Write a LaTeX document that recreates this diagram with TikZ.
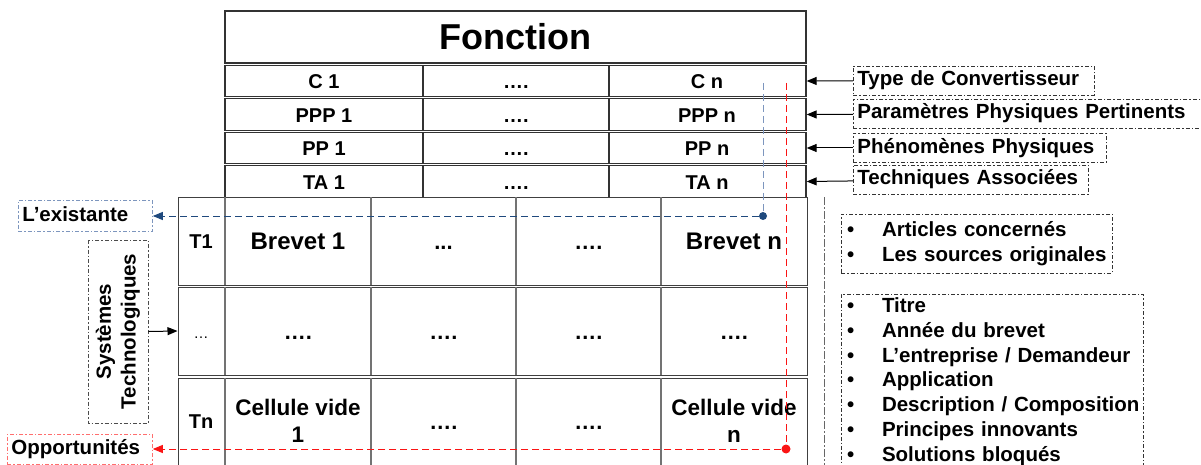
\documentclass[tikz,border=0pt]{standalone}
\usepackage{fontspec}
\setmainfont{Liberation Sans}
\usetikzlibrary{arrows.meta,positioning}
\definecolor{existblue}{RGB}{31,73,125}
\definecolor{paleblue}{RGB}{125,150,190}
\definecolor{oppred}{RGB}{250,20,20}
\definecolor{palered}{RGB}{255,110,110}
\newcommand{\puce}[1]{\mbox{\makebox[35pt][l]{\textbullet}#1}}

\begin{document}
\begin{tikzpicture}[x=1pt, y=-1pt,
  >={Triangle[length=10pt,width=8pt]},
  rowbox/.style={draw=black!80, line width=1.3pt, minimum width=581pt,
    minimum height=31.5pt, inner sep=0pt},
  techrow/.style={draw=black!75, line width=1pt, minimum width=629pt,
    minimum height=88pt, inner sep=0pt},
  divide/.style={black!55, line width=1.1pt},
  cell/.style={font=\fontsize{20}{24}\selectfont\bfseries, text height=14pt,
    text depth=0pt, inner sep=0pt},
  bigcell/.style={font=\fontsize{24}{27}\selectfont\bfseries, text height=17pt,
    text depth=0pt, inner sep=0pt},
  dotcell/.style={bigcell, font=\fontsize{22}{26}\selectfont\bfseries},
  videcell/.style={font=\fontsize{22.5}{27}\selectfont\bfseries, align=center,
    inner sep=0pt},
  tag/.style={draw=black!80, line width=0.8pt,
    dash pattern=on 4pt off 2pt on 1.5pt off 2pt,
    font=\fontsize{20.5}{24.8}\selectfont\bfseries, align=left,
    inner xsep=4pt, inner ysep=0pt, minimum height=29pt,
    text height=15pt, text depth=4pt, anchor=west},
  listbox/.style={draw=black!80, line width=0.8pt,
    dash pattern=on 4pt off 2pt on 1.5pt off 2pt,
    font=\fontsize{20.5}{24.8}\selectfont\bfseries, align=left,
    inner xsep=6pt, inner ysep=0pt},
  arr/.style={->, line width=1pt},
  trace/.style={line width=1pt, dash pattern=on 7pt off 4pt},
  pt/.style={circle, inner sep=0pt, minimum size=8pt}
]
\useasboundingbox (0,0) rectangle (1201,465);

% Fonction and its four rows
\node[rowbox, minimum height=52pt, font=\fontsize{36}{40}\selectfont\bfseries]
  (fn) at (515.5,37) {Fonction};
\node[rowbox] (rowC)   at (515.5,81)    {};
\node[rowbox] (rowPPP) at (515.5,114.5) {};
\node[rowbox] (rowPP)  at (515.5,148)   {};
\node[rowbox] (rowTA)  at (515.5,181.5) {};
\foreach \t/\b in {65/97,99/130,132/164,166/197}
  \foreach \x in {423,609}
    \draw[black!80, line width=1.3pt] (\x,\t) -- (\x,\b);

\node[cell] (C1)   at (324,82)    {C 1};
\node[cell] (Cd)   at (516,82)    {….};
\node[cell] (Cn)   at (707,82)    {C n};
\node[cell] (PPP1) at (324,115.5) {PPP 1};
\node[cell] (PPPd) at (516,115.5) {….};
\node[cell] (PPPn) at (707,115.5) {PPP n};
\node[cell] (PP1)  at (324,149)   {PP 1};
\node[cell] (PPd)  at (516,149)   {….};
\node[cell] (PPn)  at (707,149)   {PP n};
\node[cell] (TA1)  at (324,182.5) {TA 1};
\node[cell] (TAd)  at (516,182.5) {….};
\node[cell] (TAn)  at (707,182.5) {TA n};

% Right-hand labels
\node[tag, text width=233pt] (tC)   at (853,80.5)  {Type de Convertisseur};
\node[tag, text width=344pt] (tPPP) at (853,113.5) {Paramètres Physiques Pertinents};
\node[tag, text width=245pt] (tPP)  at (853,148)   {Phénomènes Physiques};
\node[tag, text width=227pt] (tTA)  at (853,179.5) {Techniques Associées};
\draw[arr] (tC)   -- (rowC.east);
\draw[arr] (tPPP) -- (rowPPP.east);
\draw[arr] (tPP)  -- (rowPP.east);
\draw[arr] (tTA)  -- (rowTA.east);

% Technological systems table
\node[techrow] (r1) at (492.5,241) {};
\node[techrow] (r2) at (492.5,331) {};
\node[techrow, minimum height=92pt] (r3) at (492.5,424) {};
\foreach \t/\b in {197/285,287/375,378/470}
  \foreach \x in {225,371,516,661}
    \draw[divide] (\x,\t) -- (\x,\b);

\node[cell] (T1) at (201,241) {T1};
\node[bigcell] (B1) at (298,241) {Brevet 1};
\node[dotcell] (B2) at (443.5,241) {...};
\node[dotcell] (B3) at (588.5,241) {….};
\node[bigcell] (Bn) at (734,241) {Brevet n};

\node[cell, font=\fontsize{15}{18}\selectfont] (Td) at (201,331) {…};
\node[dotcell] (M1) at (298,331)   {….};
\node[dotcell] (M2) at (443.5,331) {….};
\node[dotcell] (M3) at (588.5,331) {….};
\node[dotcell] (Mn) at (734,331)   {….};

\node[cell] (Tn) at (201,421) {Tn};
\node[videcell] (V1) at (298,421) {Cellule vide\\1};
\node[dotcell] (V2) at (443.5,421) {….};
\node[dotcell] (V3) at (588.5,421) {….};
\node[videcell] (Vn) at (734,421) {Cellule vide\\n};

% Left-hand labels
\node[tag, draw=paleblue, text width=126pt, minimum height=31pt] (exist) at (18,216) {L’existante};
\node[tag, draw=palered, text width=137pt, minimum height=30pt] (opp) at (7,449) {Opportunités};
\node[tag, draw=black!70, anchor=center, rotate=90, align=center,
  text width=175pt, minimum height=60pt, text height=, text depth=]
  (sys) at (118,331.5) {Systèmes\\Technologiques};
\draw[arr] (sys.south) -- (r2.west);

% Existing and opportunity traces
\coordinate (btop) at (763,83);
\node[pt, fill=existblue] (bdot) at (763,216) {};
\draw[trace, paleblue] (btop) -- (bdot);
\draw[trace, existblue, ->] (bdot) -- (exist.east);
\coordinate (rtop) at (786,83);
\node[pt, fill=oppred, minimum size=9pt] (rdot) at (786,449) {};
\draw[trace, oppred] (rtop) -- (rdot);
\draw[trace, oppred, ->] (rdot) -- (opp.east);

% Sources
\coordinate (gtop) at (824,197);
\coordinate (gbot) at (824,470);
\draw[black!60, line width=1pt, dash pattern=on 8pt off 2pt on 2pt off 2pt] (gtop) -- (gbot);
\node[listbox, text width=259pt, minimum height=59pt] (art) at (976.5,243.5)
  {\puce{Articles concernés}\\\puce{Les sources originales}};
\node[listbox, text width=290pt, minimum height=175pt] (brev) at (992,381.5)
  {\puce{Titre}\\\puce{Année du brevet}\\\puce{L’entreprise / Demandeur}\\
   \puce{Application}\\\puce{Description / Composition}\\
   \puce{Principes innovants}\\\puce{Solutions bloqués}};
\end{tikzpicture}
\end{document}
